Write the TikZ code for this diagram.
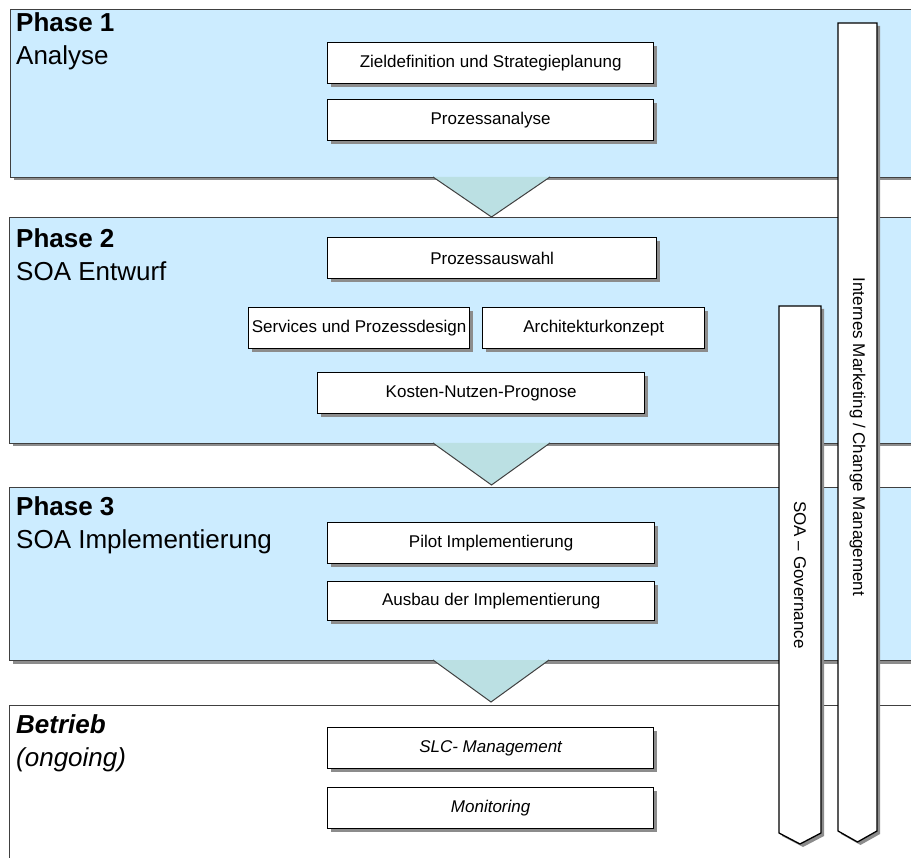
\documentclass[tikz,border=0pt]{standalone}
\usepackage{fontspec}
\setmainfont{Liberation Sans}
\usetikzlibrary{shadows}
\definecolor{phaseblue}{HTML}{CCECFF}
\definecolor{trifill}{HTML}{BBE0E3}
\definecolor{edgegray}{HTML}{404040}
\definecolor{shadegray}{HTML}{8C8C8C}
\begin{document}
\begin{tikzpicture}[x=1pt,y=-1pt,
  phasebox/.style={draw=edgegray, fill=phaseblue, line width=1pt, rectangle, anchor=north west, inner sep=0pt,
    drop shadow={shadow xshift=3pt, shadow yshift=-3pt, fill=shadegray, opacity=1}},
  opbox/.style={draw=edgegray, fill=white, line width=1pt, rectangle, anchor=north west, inner sep=0pt},
  titletext/.style={anchor=north west, align=left, inner sep=0pt, font=\fontsize{26}{33}\selectfont},
  taskbox/.style={draw=black, fill=white, line width=1.3pt, rectangle, anchor=north west, inner sep=0pt,
    font=\fontsize{17}{20}\selectfont, minimum height=41pt,
    drop shadow={shadow xshift=3pt, shadow yshift=-3pt, fill=shadegray, opacity=1}},
  flowtri/.style={draw=edgegray, fill=trifill, line width=1pt, line join=miter},
  bar/.style={draw=black, fill=white, line width=1.3pt, line join=miter},
  barshadow/.style={fill=shadegray},
  bartext/.style={rotate=-90, inner sep=0pt, font=\fontsize{17}{20}\selectfont}
]
\useasboundingbox (0,0) rectangle (911,858);
\clip (0,0) rectangle (911,858);

% phase boxes
\node[phasebox, minimum width=1000pt, minimum height=168pt] (p1) at (10,9) {};
\node[phasebox, minimum width=1000pt, minimum height=226pt] (p2) at (9,217) {};
\node[phasebox, minimum width=1000pt, minimum height=173pt] (p3) at (9,487) {};
\node[opbox, minimum width=1000pt, minimum height=300pt] (p4) at (9,705) {};

% titles
\node[titletext] (t1) at (16,12) {\textbf{Phase 1}\\Analyse};
\node[titletext] (t2) at (16,228) {\textbf{Phase 2}\\SOA Entwurf};
\node[titletext] (t3) at (16,496) {\textbf{Phase 3}\\SOA Implementierung};
\node[titletext] (t4) at (16,714) {\textbf{\itshape Betrieb}\\\itshape (ongoing)};

% flow triangles
\coordinate (a1l) at (433,177); \coordinate (a1r) at (550,177); \coordinate (a1t) at (491.5,217);
\coordinate (a2l) at (433,443); \coordinate (a2r) at (550,443); \coordinate (a2t) at (491.5,485);
\coordinate (a3l) at (433,660); \coordinate (a3r) at (549,660); \coordinate (a3t) at (491,702);
\filldraw[flowtri] (a1l) -- (a1t) -- (a1r);
\filldraw[flowtri] (a2l) -- (a2t) -- (a2r);
\filldraw[flowtri] (a3l) -- (a3t) -- (a3r);

% task boxes
\node[taskbox, minimum width=326pt] (ziel) at (327,42) {Zieldefinition und Strategieplanung};
\node[taskbox, minimum width=326pt] (proz) at (327,99) {Prozessanalyse};
\node[taskbox, minimum width=329pt] (ausw) at (327,237) {Prozessauswahl};
\node[taskbox, minimum width=221pt] (serv) at (248,307) {Services und Prozessdesign};
\node[taskbox, minimum width=222pt] (arch) at (482,307) {Architekturkonzept};
\node[taskbox, minimum width=327pt] (kost) at (317,372) {Kosten-Nutzen-Prognose};
\node[taskbox, minimum width=327pt] (pilot) at (327,522) {Pilot Implementierung};
\node[taskbox, minimum width=327pt, minimum height=39pt] (ausb) at (327,581) {Ausbau der Implementierung};
\node[taskbox, minimum width=326pt] (slc) at (327,727) {\itshape SLC- Management};
\node[taskbox, minimum width=326pt] (moni) at (327,787) {\itshape Monitoring};

% vertical bars
\fill[barshadow] (782,309) -- (824,309) -- (824,836) -- (803,847) -- (782,836) -- cycle;
\filldraw[bar] (779,306) -- (821,306) -- (821,833) -- (800,844) -- (779,833) -- cycle;
\node[bartext] (gov) at (800,575) {SOA -- Governance};

\fill[barshadow] (841,26) -- (880,26) -- (880,834) -- (860.5,845) -- (841,834) -- cycle;
\filldraw[bar] (838,23) -- (877,23) -- (877,831) -- (857.5,842) -- (838,831) -- cycle;
\node[bartext] (mkt) at (857.5,437) {Internes Marketing / Change Management};
\end{tikzpicture}
\end{document}
